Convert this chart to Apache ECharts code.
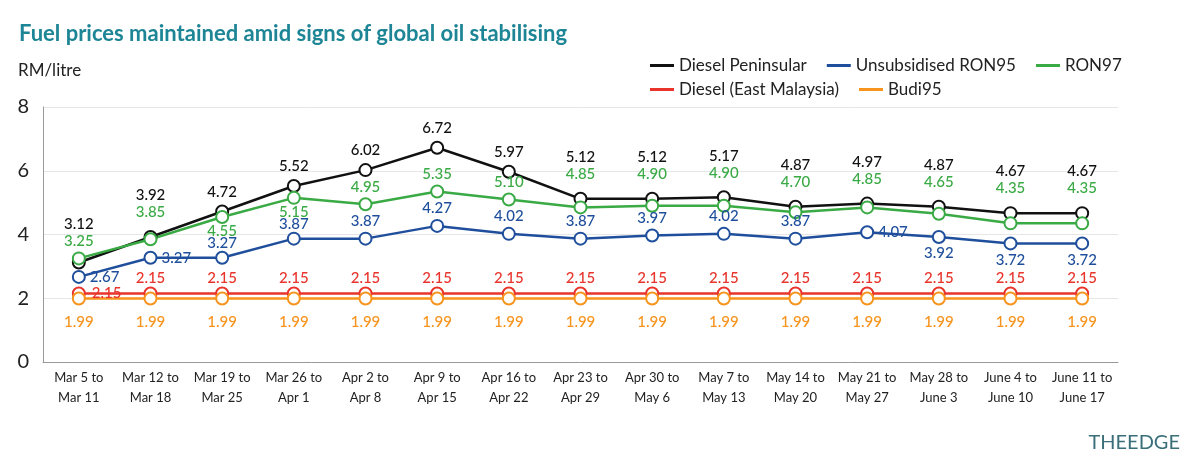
<!DOCTYPE html>
<html><head><meta charset="utf-8">
<script src="https://cdn.jsdelivr.net/npm/echarts@6/dist/echarts.min.js"></script>
<style>body{margin:0;background:#fff}#main{width:1200px;height:465px}</style>
</head><body><div id="main"></div>
<script>
var categories = ['Mar 5 to\nMar 11','Mar 12 to\nMar 18','Mar 19 to\nMar 25','Mar 26 to\nApr 1','Apr 2 to\nApr 8','Apr 9 to\nApr 15','Apr 16 to\nApr 22','Apr 23 to\nApr 29','Apr 30 to\nMay 6','May 7 to\nMay 13','May 14 to\nMay 20','May 21 to\nMay 27','May 28 to\nJune 3','June 4 to\nJune 10','June 11 to\nJune 17'];
var dieselPen = [3.12,3.92,4.72,5.52,6.02,6.72,5.97,5.12,5.12,5.17,4.87,4.97,4.87,4.67,4.67];
var ron97 = [3.25,3.85,4.55,5.15,4.95,5.35,5.10,4.85,4.90,4.90,4.70,4.85,4.65,4.35,4.35];
var ron95 = [2.67,3.27,3.27,3.87,3.87,4.27,4.02,3.87,3.97,4.02,3.87,4.07,3.92,3.72,3.72];
var dieselEast = [2.15,2.15,2.15,2.15,2.15,2.15,2.15,2.15,2.15,2.15,2.15,2.15,2.15,2.15,2.15];
var budi95 = [1.99,1.99,1.99,1.99,1.99,1.99,1.99,1.99,1.99,1.99,1.99,1.99,1.99,1.99,1.99];

var chart = echarts.init(document.getElementById('main'));
var F = 'Lato, "Noto Sans", sans-serif';
var PX = 255 / 8; // pixels per RM on the y axis
var greenBelow = { 2: 1, 3: 1 };
// per-point label tweaks: {i: [position, distance, offset]}
function mk(name, data, color, pos, dist, over) {
  return {
    name: name, type: 'line', data: data.map(function (v, i) {
      var lab = { position: pos, distance: typeof dist === 'function' ? dist(i) : dist };
      if (over && over[i]) {
        lab.position = over[i][0];
        if (over[i][1] != null) lab.distance = over[i][1];
        if (over[i][2]) lab.offset = over[i][2];
      }
      return { value: v, label: lab };
    }),
    symbol: 'circle', symbolSize: 12, itemStyle: { color: '#fff', borderColor: color, borderWidth: 2 },
    lineStyle: { color: color, width: 2.5 }, color: color,
    labelLayout: { hideOverlap: false },
    label: { show: true, color: color, fontSize: 15, fontWeight: 500, fontFamily: F,
      formatter: function (p) { return p.value.toFixed(2); } }
  };
}
function gap(i) { return (dieselPen[i] - ron97[i]) * PX; }
function greenDist(i) { var g = gap(i); return (g > 0 && g < 18) ? g + 10 : 3; }
function blackDist(i) { return greenBelow[i] ? 5 : Math.max(5, greenDist(i) + 17 - gap(i)); }
function leg(n, c) { return { name: n, icon: 'rect', itemStyle: { color: c, borderWidth: 0 } }; }
chart.setOption({
  animation: false,
  title: { text: 'Fuel prices maintained amid signs of global oil stabilising', left: 14, top: 18,
    textStyle: { color: '#1d8595', fontSize: 22, fontWeight: 'bold', fontFamily: F } },
  graphic: [{ type: 'text', left: 18, top: 62, style: { text: 'RM/litre', fontSize: 17, fontFamily: F, fill: '#222' } },
    { type: 'text', right: 20, bottom: 12, style: { text: 'THEEDGE', fontSize: 20, fontFamily: F, fill: '#3a6f7a' } }],
  legend: [
    { data: [leg('Diesel Peninsular', '#111111'), leg('Unsubsidised RON95', '#1f4f9c'), leg('RON97', '#3aaa45')],
      left: 645, top: 52, itemWidth: 24, itemHeight: 3, itemGap: 20,
      textStyle: { fontSize: 17, fontFamily: F, color: '#222' } },
    { data: [leg('Diesel (East Malaysia)', '#e8342b'), leg('Budi95', '#f7941d')],
      left: 645, top: 76, itemWidth: 24, itemHeight: 3, itemGap: 20,
      textStyle: { fontSize: 17, fontFamily: F, color: '#222' } }
  ],
  grid: { left: 43, right: 82, top: 107, bottom: 103 },
  xAxis: { type: 'category', data: categories, boundaryGap: true,
    axisLine: { lineStyle: { color: '#999' } }, axisTick: { length: 22, lineStyle: { color: '#999' } },
    axisLabel: { color: '#222', fontSize: 13, fontFamily: F, lineHeight: 20, margin: 6, interval: 0 } },
  yAxis: { type: 'value', min: 0, max: 8, interval: 2,
    axisLine: { show: true, lineStyle: { color: '#999' } },
    splitLine: { lineStyle: { color: '#e6e6e6' } },
    axisLabel: { color: '#222', fontSize: 20, fontFamily: F, margin: 14 } },
  series: [
    mk('Diesel Peninsular', dieselPen, '#111111', 'top', blackDist),
    mk('Unsubsidised RON95', ron95, '#1f4f9c', 'top', 3, {
      0: ['right', 4], 1: ['right', 4, [0, -10]], 2: ['top', 0, [0, 4]], 3: ['top', 0, [0, 3]],
      11: ['right', 4, [0, 10]], 12: ['bottom', 2], 13: ['bottom', 2], 14: ['bottom', 2] }),
    mk('RON97', ron97, '#3aaa45', 'top', greenDist, { 2: ['bottom', 0, [0, -3]], 3: ['bottom', 0, [0, -3]] }),
    mk('Diesel (East Malaysia)', dieselEast, '#e8342b', 'top', 1, { 0: ['right', 6, [0, -4]] }),
    mk('Budi95', budi95, '#f7941d', 'bottom', 9)
  ]
});
</script></body></html>
